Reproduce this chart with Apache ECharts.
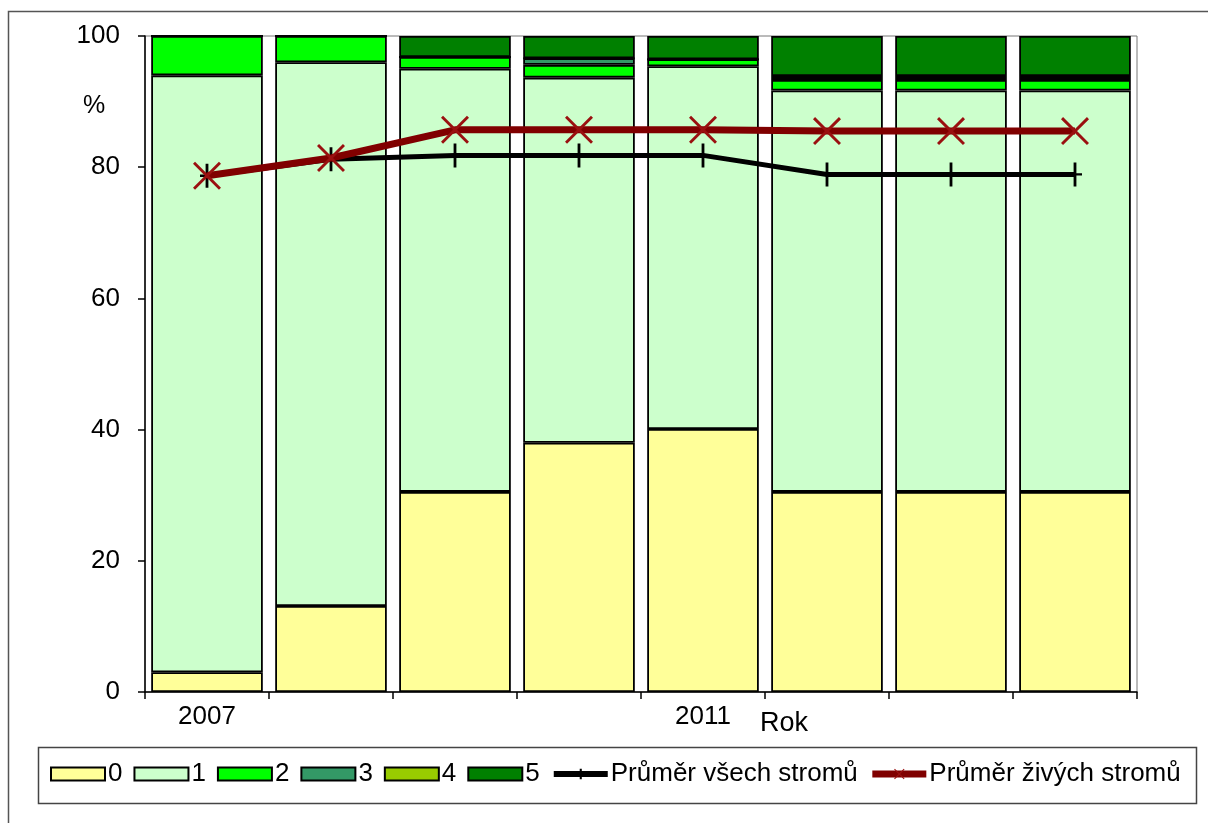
<!DOCTYPE html>
<html>
<head>
<meta charset="utf-8">
<script src="https://cdn.jsdelivr.net/npm/echarts@6/dist/echarts.min.js"></script>
<style>
  html, body { margin: 0; padding: 0; background: #fff; }
  #chart { width: 1208px; height: 823px; }
</style>
</head>
<body>
<div id="chart"></div>
<script>
// Years on the category axis; only some of them carry a label
const years = ['2007', '2008', '2009', '2010', '2011', '2012', '2013', '2014'];
const shownYears = ['2007', '2011'];

// Share of trees (%) in each defoliation class 0–5
const class0 = [3.0, 13.1, 30.5, 38.0, 40.1, 30.5, 30.5, 30.5];
const class1 = [91.0, 82.9, 64.5, 55.65, 55.3, 61.2, 61.2, 61.2];
const class2 = [6.0, 4.0, 1.8, 1.95, 1.05, 1.6, 1.6, 1.6];
const class3 = [0, 0, 0, 1.0, 0, 0.3, 0.3, 0.3];
const class4 = [0, 0, 0, 0, 0, 0.3, 0.3, 0.3];
const class5 = [0, 0, 3.2, 3.4, 3.55, 6.1, 6.1, 6.1];

// Mean values
const meanAll = [78.7, 81.2, 81.8, 81.8, 81.8, 78.9, 78.9, 78.9];
const meanLiving = [78.7, 81.4, 85.7, 85.7, 85.7, 85.5, 85.5, 85.5];

// Y axis ticks
const yMin = 0, yMax = 100, yStep = 20;

const classNames = ['0', '1', '2', '3', '4', '5'];
const classData = [class0, class1, class2, class3, class4, class5];
const classColors = ['#FFFF99', '#CCFFCC', '#00FF00', '#339966', '#99CC00', '#008000'];

const FONT = '"Liberation Sans", Arial, sans-serif';

const chart = echarts.init(document.getElementById('chart'), null, { renderer: 'canvas' });

const barSeries = classNames.map((name, i) => ({
  name: name,
  type: 'bar',
  stack: 'share',
  barWidth: '90%',
  data: classData[i],
  itemStyle: { color: classColors[i], borderColor: '#000', borderWidth: 1.8 },
  emphasis: { disabled: true }
}));

const plusPath = 'path://M-1.2,-12H1.2V12H-1.2Z M-6,-1.2H6V1.2H-6Z';
const crossPath = 'path://M-11,-9.4L-9.4,-11L11,9.4L9.4,11Z M9.4,-11L11,-9.4L-9.4,11L-11,9.4Z';

chart.setOption({
  animation: false,
  backgroundColor: '#fff',
  textStyle: { fontFamily: FONT },
  grid: {
    left: 145, right: 71, top: 36, bottom: 131,
    show: true, borderColor: '#777', borderWidth: 1
  },
  legend: {
    left: 50, top: 761, padding: 0,
    itemWidth: 54, itemHeight: 13, itemGap: 11,
    textStyle: { fontSize: 26, color: '#000', fontFamily: FONT, padding: [0, 0, 0, -2] },
    data: [
      ...classNames.map(n => ({ name: n, icon: 'rect' })),
      { name: 'Průměr všech stromů', lineStyle: { width: 6 } },
      { name: 'Průměr živých stromů', lineStyle: { width: 7 } }
    ]
  },
  xAxis: {
    type: 'category',
    data: years,
    axisLine: { lineStyle: { color: '#000', width: 1.5 } },
    axisTick: { show: true, length: 7, lineStyle: { color: '#000', width: 1.5 } },
    axisLabel: {
      interval: 0, margin: 12, fontSize: 26, color: '#000', fontFamily: FONT,
      formatter: v => (shownYears.includes(v) ? v : '')
    },
    splitLine: { show: false }
  },
  yAxis: {
    type: 'value',
    min: yMin, max: yMax, interval: yStep,
    axisLine: { show: true, lineStyle: { color: '#000', width: 1.5 } },
    axisTick: { show: true, length: 7, lineStyle: { color: '#000', width: 1.5 } },
    axisLabel: { margin: 25, fontSize: 26, color: '#000', fontFamily: FONT },
    splitLine: { show: false }
  },
  series: [
    ...barSeries,
    {
      name: 'Průměr všech stromů',
      type: 'line',
      data: meanAll,
      symbol: plusPath,
      symbolSize: [14, 24],
      showSymbol: true,
      lineStyle: { color: '#000', width: 5 },
      itemStyle: { color: '#000' },
      z: 3
    },
    {
      name: 'Průměr živých stromů',
      type: 'line',
      data: meanLiving,
      symbol: crossPath,
      symbolSize: [28, 28],
      showSymbol: true,
      lineStyle: { color: '#800000', width: 7 },
      itemStyle: { color: '#9a1010' },
      z: 4
    }
  ],
  graphic: [
    {
      type: 'rect', silent: true, z: -1,
      shape: { x: 8.5, y: 11.5, width: 1230, height: 840 },
      style: { fill: null, stroke: '#555', lineWidth: 1.5 }
    },
    {
      type: 'rect', silent: true, z: -1,
      shape: { x: 38.5, y: 747.5, width: 1158, height: 56 },
      style: { fill: null, stroke: '#444', lineWidth: 1.5 }
    },
    {
      type: 'text', left: 83, top: 94,
      style: { text: '%', fontSize: 25, fill: '#000', fontFamily: FONT }
    },
    {
      type: 'text', left: 760, top: 710,
      style: { text: 'Rok', fontSize: 27, fill: '#000', fontFamily: FONT }
    }
  ]
});
</script>
</body>
</html>
